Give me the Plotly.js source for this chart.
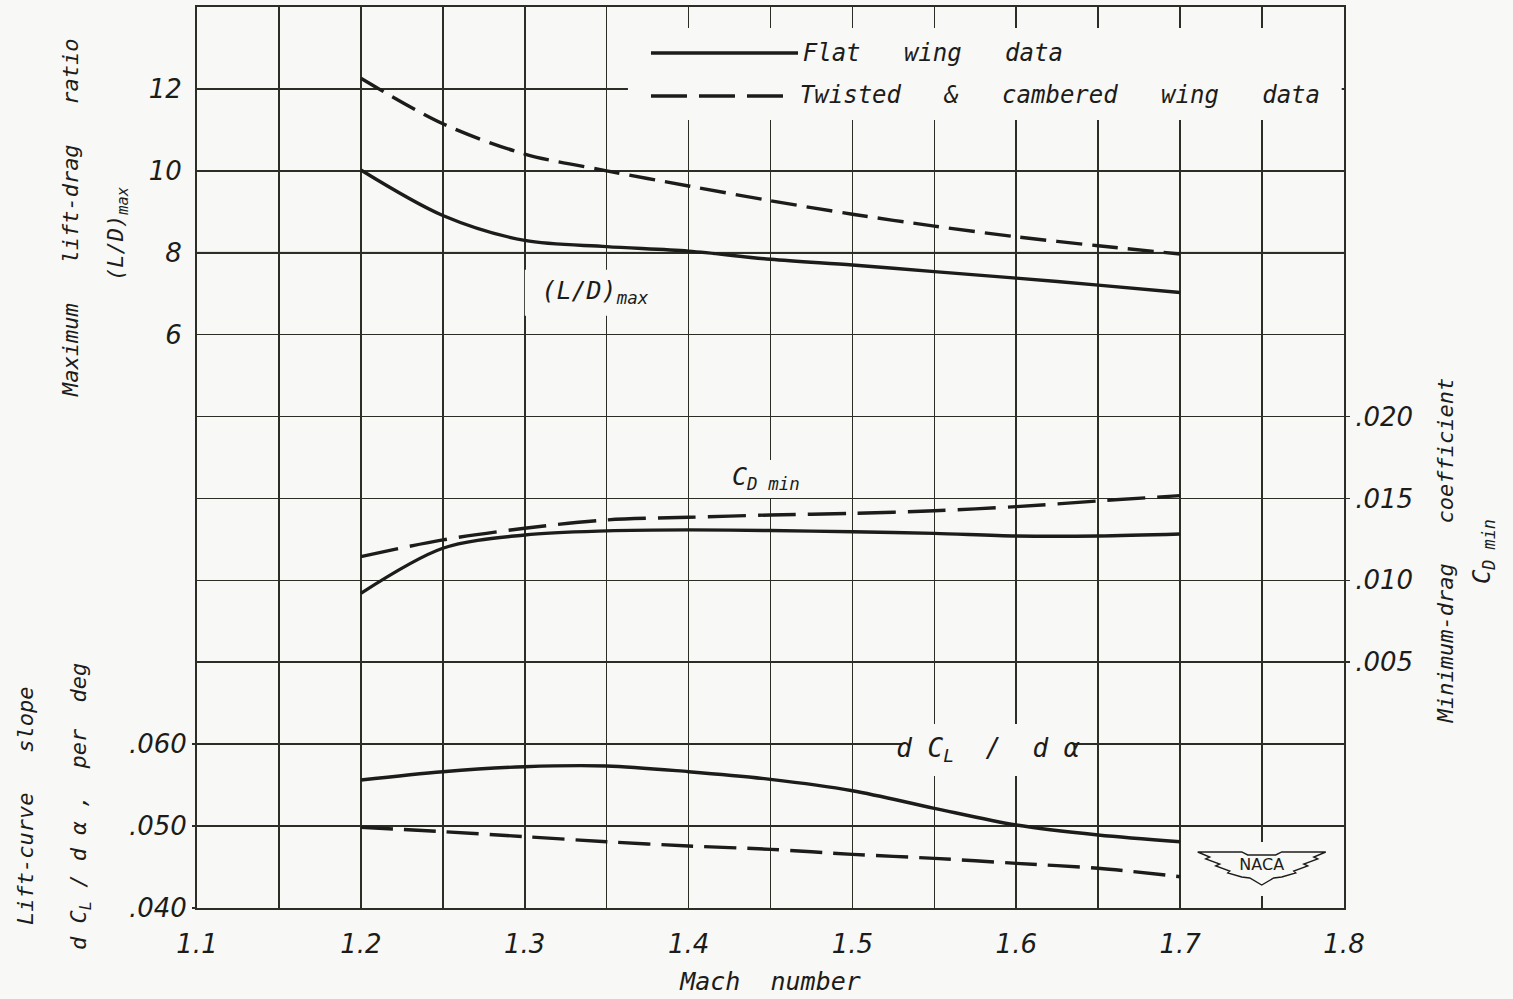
<!DOCTYPE html>
<html>
<head>
<meta charset="utf-8">
<script src="https://cdn.plot.ly/plotly-3.0.1.min.js"></script>
<style>
  html, body { margin: 0; padding: 0; background: #f8f8f6; }
</style>
</head>
<body>
<div id="chart" style="width:1513px;height:999px;"></div>
<script>
// ---- data ----
const mach = [1.2, 1.25, 1.3, 1.35, 1.4, 1.45, 1.5, 1.55, 1.6, 1.65, 1.7];

const flatLD   = [10.02, 8.91, 8.30, 8.15, 8.04, 7.84, 7.70, 7.54, 7.38, 7.21, 7.03];
const twistLD  = [12.26, 11.15, 10.41, 10.00, 9.63, 9.27, 8.94, 8.65, 8.39, 8.17, 7.97];

const flatCD   = [0.00921, 0.01196, 0.01277, 0.01302, 0.01308, 0.01304, 0.01297, 0.01287, 0.01271, 0.01271, 0.01283];
const twistCD  = [0.01145, 0.01247, 0.01318, 0.01369, 0.01385, 0.01399, 0.01409, 0.01425, 0.01450, 0.01485, 0.01517];

const flatSlope  = [0.05563, 0.05664, 0.05725, 0.05734, 0.05664, 0.05571, 0.05432, 0.05217, 0.05013, 0.04891, 0.04809];
const twistSlope = [0.04985, 0.04932, 0.04871, 0.04809, 0.04757, 0.04716, 0.04655, 0.04606, 0.04545, 0.04485, 0.04382];

// tick positions / labels
const xTickVals = [1.1, 1.2, 1.3, 1.4, 1.5, 1.6, 1.7, 1.8];
const xTickText = ['1.1', '1.2', '1.3', '1.4', '1.5', '1.6', '1.7', '1.8'];
const ldTickVals = [6, 8, 10, 12];
const ldTickText = ['6', '8', '10', '12'];
const cdTickVals = [0.005, 0.010, 0.015, 0.020];
const cdTickText = ['.005', '.010', '.015', '.020'];
const slopeTickVals = [0.040, 0.050, 0.060];
const slopeTickText = ['.040', '.050', '.060'];

const seriesNames = ['Flat wing data', 'Twisted & cambered wing data'];

// ---- styling ----
const INK = '#1c1c1a';
const GRID = '#2c2e25';
const BG = '#f8f8f6';
const FONT = 'DejaVu Sans, sans-serif';
const LFONT = 'DejaVu Sans Mono, monospace';
const nb = '\u00a0';
function tf() { return {family: FONT, size: 26, style: 'italic', color: INK}; }
function sp(s, n) { return s.split(' ').join(nb.repeat(n || 3)); }
function lf(size) { return {family: LFONT, size: size, style: 'italic', color: INK}; }

function trace(y, axis, dash, name) {
  return {
    x: mach, y: y, yaxis: axis, type: 'scatter', mode: 'lines', name: name,
    showlegend: false, hoverinfo: 'skip',
    line: {color: INK, width: 3.4, dash: dash, shape: 'spline', smoothing: 0.9}
  };
}

// text labels placed in data space
function label(text, x, y, axis, pos, font) {
  return {
    x: [x], y: [y], yaxis: axis, type: 'scatter', mode: 'text', text: [text],
    textposition: pos, textfont: font, showlegend: false, hoverinfo: 'skip',
    cliponaxis: false
  };
}

const data = [
  trace(flatLD, 'y', 'solid', seriesNames[0]),
  trace(twistLD, 'y', '26px,10px', seriesNames[1]),
  trace(flatCD, 'y2', 'solid', seriesNames[0]),
  trace(twistCD, 'y2', '38px,12px', seriesNames[1]),
  trace(flatSlope, 'y3', 'solid', seriesNames[0]),
  trace(twistSlope, 'y3', '32px,11px', seriesNames[1]),
  // curve labels
  label('(L/D)<sub>max</sub>', 1.3428, 7.02, 'y', 'middle center', lf(25)),
  label('C<sub>D' + nb + 'min</sub>', 1.4472, 0.01619, 'y2', 'middle center', lf(25)),
  label('d' + nb + 'C<sub>L</sub>' + nb + nb + '/' + nb + nb + 'd' + nb + 'α', 1.5826, 0.05929, 'y3', 'middle center', lf(26)),
  // legend text
  label(sp(seriesNames[0]), 1.4697, 12.83, 'y', 'middle right', lf(24)),
  label(sp(seriesNames[1]), 1.4679, 11.80, 'y', 'middle right', lf(24)),
  // NACA emblem text
  label('NACA', 1.7498, 0.04513, 'y3', 'middle center', {family: FONT, size: 16, color: INK})
];

function ann(text, x, y, opts) {
  return Object.assign({
    text: text, x: x, y: y, xref: 'paper', yref: 'paper',
    showarrow: false, xanchor: 'center', yanchor: 'middle',
    textangle: -90, font: lf(22)
  }, opts || {});
}

const annotations = [
  // left titles
  ann(sp('Maximum lift-drag ratio'), -0.1107, 0.7658),
  ann('(L/D)<sub>max</sub>', -0.0689, 0.7492),
  ann(sp('Lift-curve slope'), -0.150, 0.1132),
  ann('d' + nb + 'C<sub>L</sub>' + nb + '/' + nb + 'd' + nb + 'α' + nb + ',' + nb + nb + 'per' + nb + nb + 'deg', -0.102, 0.112),
  // right titles
  ann(sp('Minimum-drag coefficient'), 1.088, 0.397),
  ann('C<sub>D' + nb + 'min</sub>', 1.1212, 0.395, {font: lf(24)})
];

// blank patches (grid gaps) anchored in the primary subplot
function blank(x, y, w, h) {
  return {type: 'rect', xref: 'x', yref: 'y', xsizemode: 'pixel', ysizemode: 'pixel',
    xanchor: x, yanchor: y, x0: -w / 2, x1: w / 2, y0: -h / 2, y1: h / 2,
    fillcolor: BG, line: {width: 0}, layer: 'between'};
}

const shapes = [
  // blank box behind legend
  {type: 'rect', xref: 'x', yref: 'y', x0: 1.363, x1: 1.7986, y0: 11.24, y1: 13.49,
   fillcolor: BG, line: {width: 0}, layer: 'between'},
  // blanks behind curve labels
  blank(1.3428, 7.02, 140, 46),
  blank(1.4472, 2.476, 92, 38),
  blank(1.5826, -4.141, 170, 52),
  // tan grid line at L/D = 8
  {type: 'line', xref: 'paper', yref: 'y', x0: 0, x1: 1, y0: 8, y1: 8,
   line: {color: '#a89a66', width: 1.8}, layer: 'between'},
  // legend samples
  {type: 'line', xref: 'paper', yref: 'paper', x0: 0.3958, x1: 0.524, y0: 0.949, y1: 0.949,
   line: {color: INK, width: 3.4}},
  {type: 'line', xref: 'paper', yref: 'paper', x0: 0.3958, x1: 0.5196, y0: 0.9012, y1: 0.9012,
   line: {color: INK, width: 3.4, dash: '36px,12px'}},
  // NACA wing emblem (pixel-sized path anchored at emblem centre)
  {type: 'rect', xref: 'x', yref: 'y', xsizemode: 'pixel', ysizemode: 'pixel',
   xanchor: 1.7498, yanchor: -7.023, x0: -70, x1: 70, y0: -28, y1: 26,
   fillcolor: BG, line: {width: 0}, layer: 'between'},
  {type: 'path', xref: 'x', yref: 'y', xsizemode: 'pixel', ysizemode: 'pixel',
   xanchor: 1.7498, yanchor: -7.023,
   path: 'M-64,16 L-20,16 L-14,13 L14,13 L20,16 L64,16 L52,11 L56,9 L42,4 L46,2 L32,-3 L34,-5 L20,-9 L12,-10 L0,-17 L-12,-10 L-20,-9 L-34,-5 L-32,-3 L-46,2 L-42,4 L-56,9 L-52,11 Z',
   line: {color: INK, width: 1.4}, fillcolor: BG, layer: 'between'}
];

const layout = {
  width: 1513, height: 999,
  margin: {l: 197, r: 169, t: 7, b: 91, pad: 0},
  paper_bgcolor: BG, plot_bgcolor: BG,
  showlegend: false,
  xaxis: {
    range: [1.1, 1.8], tickmode: 'array', tickvals: xTickVals, ticktext: xTickText,
    showgrid: true, gridcolor: GRID, gridwidth: 1.6, zeroline: false,
    minor: {tick0: 1.1, dtick: 0.05, showgrid: true, gridcolor: GRID, gridwidth: 1.6, ticks: ''},
    showline: true, mirror: true, linecolor: GRID, linewidth: 2,
    ticks: 'outside', ticklen: 12, tickcolor: 'rgba(0,0,0,0)',
    tickfont: tf(), automargin: false,
    title: {text: 'Mach' + nb + nb + 'number', standoff: 14, font: lf(25)},
    fixedrange: true
  },
  yaxis: {
    range: [-8, 14], tickmode: 'array', tickvals: ldTickVals, ticktext: ldTickText,
    showgrid: true, gridcolor: GRID, gridwidth: 1.6, zeroline: false,
    minor: {tick0: -8, dtick: 2, showgrid: true, gridcolor: GRID, gridwidth: 1.6, ticks: ''},
    showline: true, mirror: true, linecolor: GRID, linewidth: 2,
    ticks: 'outside', ticklen: 8, tickcolor: 'rgba(0,0,0,0)',
    tickfont: tf(), automargin: false, fixedrange: true
  },
  yaxis2: {
    overlaying: 'y', side: 'right', range: [-0.010, 0.045],
    tickmode: 'array', tickvals: cdTickVals, ticktext: cdTickText,
    showgrid: false, zeroline: false, showline: false,
    ticks: 'outside', ticklen: 5, tickcolor: GRID, tickwidth: 1.6,
    tickfont: tf(), automargin: false, fixedrange: true
  },
  yaxis3: {
    overlaying: 'y', side: 'left', range: [0.040, 0.150],
    tickmode: 'array', tickvals: slopeTickVals, ticktext: slopeTickText,
    showgrid: false, zeroline: false, showline: false,
    ticks: 'outside', ticklen: 4, tickcolor: GRID, tickwidth: 1.6,
    tickfont: tf(), automargin: false, fixedrange: true
  },
  annotations: annotations,
  shapes: shapes
};

Plotly.newPlot('chart', data, layout, {displayModeBar: false, staticPlot: true});
</script>
</body>
</html>
